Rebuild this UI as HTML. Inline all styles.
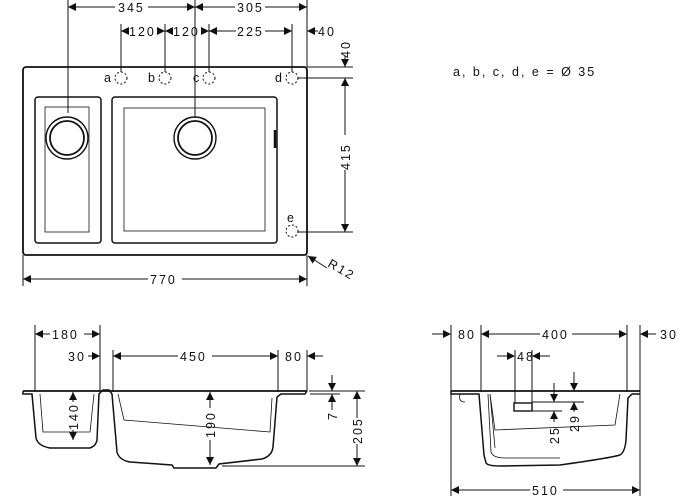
<!DOCTYPE html>
<html><head><meta charset="utf-8"><style>
body{margin:0;background:#fff}
svg{display:block}
text{font-family:"Liberation Sans",sans-serif;font-size:12.5px;letter-spacing:2px;fill:#111}
</style></head><body>
<svg width="700" height="500" viewBox="0 0 700 500" xmlns="http://www.w3.org/2000/svg">
<defs>
<marker id="a" viewBox="0 0 10 10" refX="10" refY="5" markerWidth="8" markerHeight="8" orient="auto-start-reverse" markerUnits="userSpaceOnUse"><path d="M0,0L10,5L0,10z" fill="#111"/></marker>
</defs>
<g stroke="#111" fill="none" stroke-width="1">
<rect x="23" y="67" width="284" height="188" rx="3" stroke-width="1.8"/>
<rect x="35" y="97" width="66" height="146" rx="3" stroke-width="1.5"/>
<rect x="112" y="97" width="165" height="146" rx="3" stroke-width="1.5"/>
<rect x="45" y="107" width="44" height="125" stroke-width="0.8"/>
<rect x="124" y="108" width="141" height="123" stroke-width="0.8"/>
<line x1="275" y1="130" x2="275" y2="148" stroke-width="2.5"/>
<circle cx="67" cy="138" r="21" stroke-width="1.4"/><circle cx="67" cy="138" r="17" stroke-width="1.8"/>
<circle cx="195" cy="138" r="21" stroke-width="1.4"/><circle cx="195" cy="138" r="17" stroke-width="1.8"/>
<g stroke-dasharray="2,2"><circle cx="121" cy="78" r="6"/><circle cx="165" cy="78" r="6"/><circle cx="209" cy="78" r="6"/><circle cx="292" cy="78" r="6"/><circle cx="292" cy="231" r="6"/></g>
<line x1="68" y1="0" x2="68" y2="113"/><line x1="195" y1="0" x2="195" y2="117"/><line x1="307" y1="0" x2="307" y2="67"/>
<line x1="121" y1="24" x2="121" y2="72"/><line x1="165" y1="24" x2="165" y2="72"/><line x1="209" y1="24" x2="209" y2="72"/><line x1="292" y1="24" x2="292" y2="72"/>
<line x1="307" y1="67" x2="353" y2="67"/><line x1="298" y1="78" x2="353" y2="78"/><line x1="298" y1="232" x2="353" y2="232"/>
<line x1="23" y1="255" x2="23" y2="286"/><line x1="307" y1="255" x2="307" y2="286"/>
<line x1="68" y1="7" x2="115" y2="7" marker-start="url(#a)"/><line x1="148" y1="7" x2="195" y2="7" marker-end="url(#a)"/>
<line x1="195" y1="7" x2="235" y2="7" marker-start="url(#a)"/><line x1="265" y1="7" x2="307" y2="7" marker-end="url(#a)"/>
<line x1="121" y1="31" x2="129" y2="31" marker-start="url(#a)"/><line x1="157" y1="31" x2="165" y2="31" marker-end="url(#a)"/>
<line x1="165" y1="31" x2="173" y2="31" marker-start="url(#a)"/><line x1="201" y1="31" x2="209" y2="31" marker-end="url(#a)"/>
<line x1="209" y1="31" x2="236" y2="31" marker-start="url(#a)"/><line x1="265" y1="31" x2="292" y2="31" marker-end="url(#a)"/>
<line x1="318" y1="31" x2="307" y2="31" marker-end="url(#a)"/>
<line x1="345" y1="56" x2="345" y2="67" marker-end="url(#a)"/>
<line x1="345" y1="78" x2="345" y2="135" marker-start="url(#a)"/><line x1="345" y1="170" x2="345" y2="232" marker-end="url(#a)"/>
<line x1="23" y1="279" x2="148" y2="279" marker-start="url(#a)"/><line x1="182" y1="279" x2="307" y2="279" marker-end="url(#a)"/>
<line x1="327" y1="268" x2="308" y2="256" marker-end="url(#a)"/>
<line x1="35" y1="325" x2="35" y2="391"/><line x1="100" y1="325" x2="100" y2="391"/>
<line x1="113" y1="350" x2="113" y2="392"/><line x1="278" y1="350" x2="278" y2="392"/><line x1="307" y1="350" x2="307" y2="391"/>
<line x1="35" y1="334" x2="50" y2="334" marker-start="url(#a)"/><line x1="84" y1="334" x2="100" y2="334" marker-end="url(#a)"/>
<line x1="88" y1="356" x2="100" y2="356" marker-end="url(#a)"/>
<line x1="113" y1="356" x2="178" y2="356" marker-start="url(#a)"/><line x1="212" y1="356" x2="278" y2="356" marker-end="url(#a)"/>
<line x1="323" y1="356" x2="307" y2="356" marker-end="url(#a)"/>
<line x1="23" y1="391" x2="307" y2="391" stroke-width="1.8"/>
<path d="M23,391 L23,394 L32,394 L36,438 Q38,446 50,448 L90,448 Q96,446 97,440 L99,394 L103,390 L109,390 L112,394 L117,452 Q119,460 130,462 L172,465 L174,468 L216,468 L219,464 L262,459 Q272,456 273,447 L277,397 L281,394 L305,394 L307,391" stroke-width="1.5"/>
<path d="M40,394 L43,432 L90,432 L94,394 M118,394 L124,420 L270,432 L272,398" stroke-width="0.8"/>
<line x1="73" y1="392" x2="73" y2="402" marker-start="url(#a)"/><line x1="73" y1="430" x2="73" y2="440" marker-end="url(#a)"/>
<line x1="210" y1="392" x2="210" y2="408" marker-start="url(#a)"/><line x1="210" y1="440" x2="210" y2="465" marker-end="url(#a)"/>
<line x1="310" y1="394" x2="340" y2="394"/><line x1="309" y1="391" x2="365" y2="391"/><line x1="222" y1="466" x2="365" y2="466"/>
<line x1="332" y1="375" x2="332" y2="391" marker-end="url(#a)"/><line x1="332" y1="410" x2="332" y2="394" marker-end="url(#a)"/>
<line x1="357" y1="391" x2="357" y2="418" marker-start="url(#a)"/><line x1="357" y1="444" x2="357" y2="466" marker-end="url(#a)"/>
<line x1="451" y1="325" x2="451" y2="496"/><line x1="640" y1="325" x2="640" y2="496"/>
<line x1="481" y1="325" x2="481" y2="392"/><line x1="627" y1="325" x2="627" y2="392"/>
<line x1="432" y1="334" x2="451" y2="334" marker-end="url(#a)"/>
<line x1="481" y1="334" x2="540" y2="334" marker-start="url(#a)"/><line x1="572" y1="334" x2="627" y2="334" marker-end="url(#a)"/>
<line x1="656" y1="334" x2="640" y2="334" marker-end="url(#a)"/>
<line x1="497" y1="356" x2="515" y2="356" marker-end="url(#a)"/><line x1="550" y1="356" x2="532" y2="356" marker-end="url(#a)"/>
<line x1="515" y1="350" x2="515" y2="403"/><line x1="532" y1="350" x2="532" y2="403"/>
<rect x="514" y="403" width="18" height="8" stroke-width="1.4"/>
<line x1="451" y1="391" x2="640" y2="391" stroke-width="1.8"/>
<path d="M451,391 L451,394 L479,394 L484,455 L486,463 Q488,466 500,466 L560,465 Q610,458 620,455 Q625,452 626,440 L628,398 L632,394 L640,394" stroke-width="1.5"/>
<path d="M460,394 Q458,402 465,402 M488,394 L491,452 Q493,458 505,458 L560,458 M490,394 L495,448 M490,394 L495,430 L615,425 L620,394" stroke-width="0.8"/>
<line x1="532" y1="402" x2="584" y2="402"/><line x1="532" y1="411" x2="562" y2="411"/>
<line x1="554" y1="383" x2="554" y2="402" marker-end="url(#a)"/><line x1="554" y1="422" x2="554" y2="411" marker-end="url(#a)"/>
<line x1="574" y1="372" x2="574" y2="391" marker-end="url(#a)"/><line x1="574" y1="412" x2="574" y2="402" marker-end="url(#a)"/>
<line x1="451" y1="490" x2="530" y2="490" marker-start="url(#a)"/><line x1="563" y1="490" x2="640" y2="490" marker-end="url(#a)"/>
</g>
<g>
<rect x="116" y="0" width="32" height="14" fill="#fff"/>
<text x="118" y="12">345</text>
<text x="237" y="12">305</text>
<text x="129" y="36">120</text><text x="173" y="36">120</text><text x="237" y="36">225</text><text x="318" y="36">40</text>
<text x="104" y="82" font-size="10">a</text><text x="148" y="82" font-size="10">b</text><text x="193" y="82" font-size="10">c</text><text x="275" y="82" font-size="10">d</text><text x="287" y="222" font-size="10">e</text>
<text transform="translate(350,58) rotate(-90)">40</text>
<text transform="translate(350,170) rotate(-90)">415</text>
<text x="150" y="284">770</text>
<text transform="translate(327,266) rotate(30)">R12</text>
<text x="453" y="76" font-size="11">a, b, c, d, e = Ø 35</text>
<text x="52" y="339">180</text><text x="68" y="361">30</text><text x="180" y="361">450</text><text x="285" y="361">80</text>
<text transform="translate(78,430) rotate(-90)">140</text>
<text transform="translate(215,438) rotate(-90)">190</text>
<text transform="translate(337,420) rotate(-90)">7</text>
<text transform="translate(362,444) rotate(-90)">205</text>
<text x="458" y="339">80</text><text x="542" y="339">400</text><text x="660" y="339">30</text>
<text x="517" y="361">48</text>
<text transform="translate(559,444) rotate(-90)">25</text>
<text transform="translate(579,432) rotate(-90)">29</text>
<text x="532" y="495">510</text>
</g>
</svg>
</body></html>
